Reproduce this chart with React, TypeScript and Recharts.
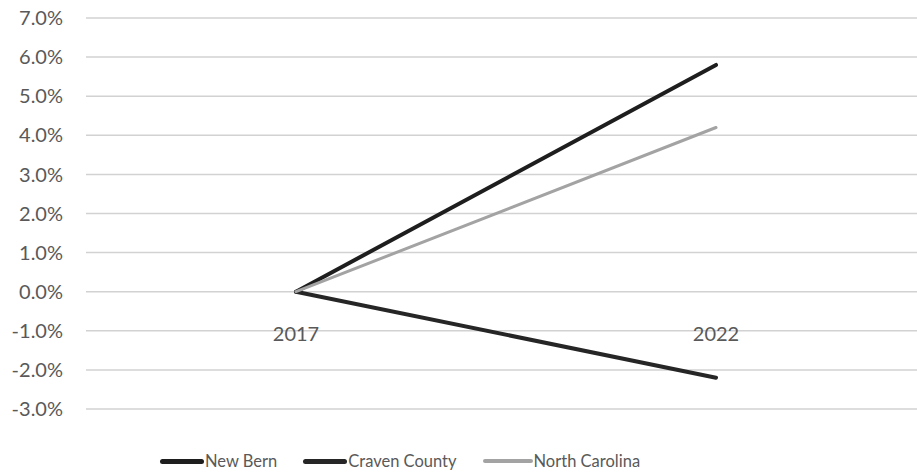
import React from 'react';
import { LineChart, Line, XAxis, YAxis, CartesianGrid } from 'recharts';

const years = ['2017', '2022'];
const newBern = [0, 5.8];
const cravenCounty = [0, -2.2];
const northCarolina = [0, 4.2];
const yTicks = [-3, -2, -1, 0, 1, 2, 3, 4, 5, 6, 7];

const series = [
  { key: 'newBern', name: 'New Bern', color: '#1e1e1e', width: 4 },
  { key: 'cravenCounty', name: 'Craven County', color: '#262626', width: 4 },
  { key: 'northCarolina', name: 'North Carolina', color: '#a3a3a3', width: 3 },
];

const data = years.map((year, i) => ({
  year,
  newBern: newBern[i],
  cravenCounty: cravenCounty[i],
  northCarolina: northCarolina[i],
}));

const font = 'Lato, "Open Sans", sans-serif';

// category labels sit just under the 0% line, like Excel's crossing axis
const YearTick = (props: any) => {
  const { x, y, payload } = props;
  return (
    <text x={x} y={y - 84} textAnchor="middle" dominantBaseline="central" fill="#595959" fontSize={20} fontFamily={font}>
      {payload.value}
    </text>
  );
};

function LegendRow() {
  return (
    <div style={{ position: 'absolute', left: 160, top: 451, display: 'flex', alignItems: 'center', fontFamily: font, fontSize: 16.5, color: '#595959' }}>
      {series.map((s) => (
        <div key={s.key} style={{ display: 'flex', alignItems: 'center', marginRight: 26 }}>
          <div style={{ width: s.key === 'northCarolina' ? 50 : 44, height: s.width + 1, background: s.color, borderRadius: 3 }} />
          <span style={{ marginLeft: 1 }}>{s.name}</span>
        </div>
      ))}
    </div>
  );
}

export default function App() {
  return (
    <div style={{ position: 'absolute', left: 0, top: 0, width: 917, height: 474, overflow: 'hidden', background: '#fff' }}>
      <LineChart width={940} height={474} data={data} margin={{ top: 18, right: 14, left: 0, bottom: 25 }}>
        <CartesianGrid vertical={false} stroke="#d2d2d2" strokeWidth={1.5} />
        <XAxis
          dataKey="year"
          height={40}
          padding={{ left: 210, right: 210 }}
          axisLine={false}
          tickLine={false}
          tick={<YearTick />}
        />
        <YAxis
          width={86}
          domain={[-3, 7]}
          ticks={yTicks}
          interval={0}
          axisLine={false}
          tickLine={false}
          tickMargin={17}
          tickFormatter={(v: number) => `${v.toFixed(1)}%`}
          tick={{ fill: '#595959', fontSize: 20, fontFamily: font }}
        />
        {series.map((s) => (
          <Line
            key={s.key}
            type="linear"
            dataKey={s.key}
            name={s.name}
            stroke={s.color}
            strokeWidth={s.width}
            strokeLinecap="round"
            dot={false}
            isAnimationActive={false}
          />
        ))}
      </LineChart>
      <LegendRow />
    </div>
  );
}
